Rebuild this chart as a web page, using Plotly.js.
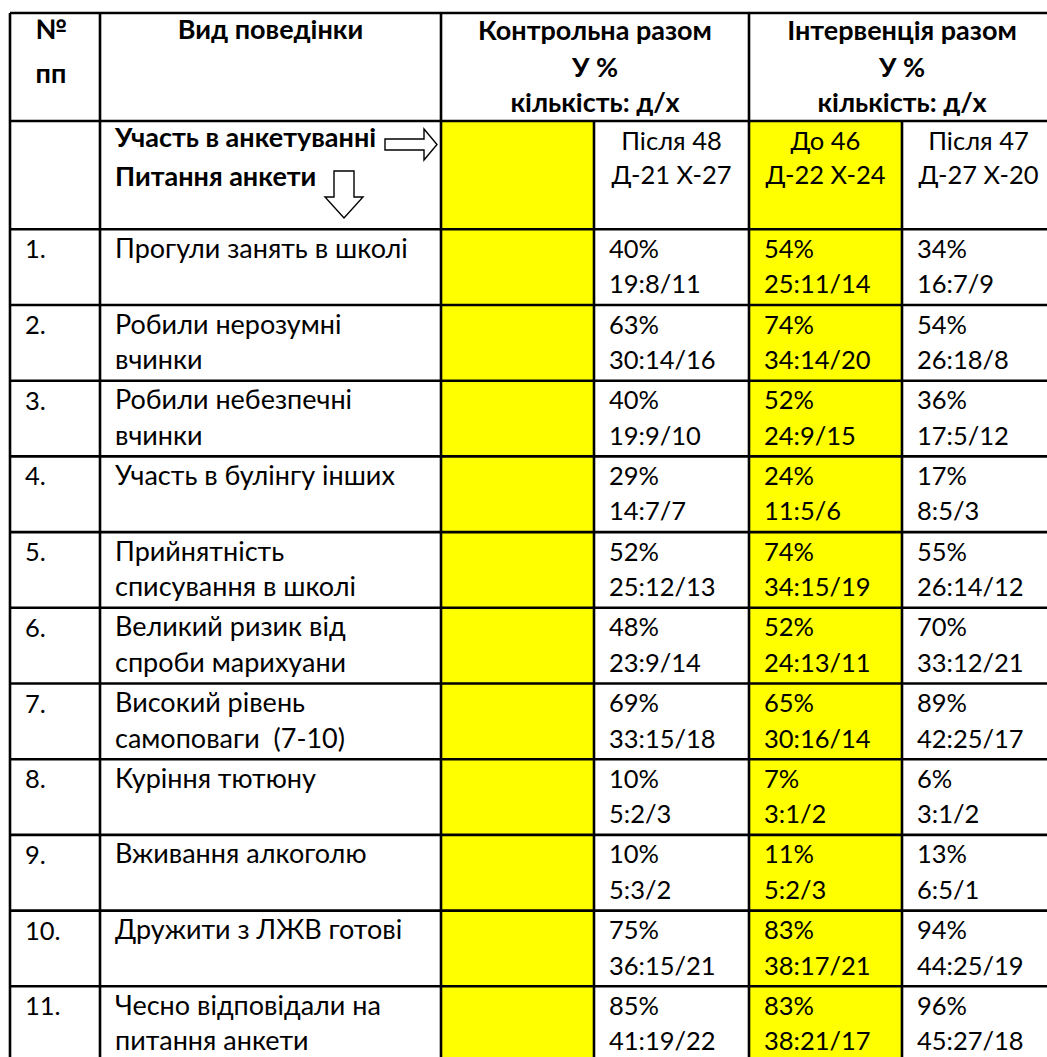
<!DOCTYPE html>
<html>
<head>
<meta charset="utf-8">
<script src="https://cdn.plot.ly/plotly-3.0.1.min.js"></script>
<style>html,body{margin:0;padding:0;background:#fff;}</style>
</head>
<body>
<div id="chart" style="width:1047px;height:1057px;"></div>
<script>
// ---------------- DATA ----------------
const rowNumbers = ['1.', '2.', '3.', '4.', '5.', '6.', '7.', '8.', '9.', '10.', '11.'];
const behaviourLines = [
  ['Прогули занять в школі'],
  ['Робили нерозумні', 'вчинки'],
  ['Робили небезпечні', 'вчинки'],
  ['Участь в булінгу інших'],
  ['Прийнятність', 'списування в школі'],
  ['Великий ризик від', 'спроби марихуани'],
  ['Високий рівень', 'самоповаги  (7-10)'],
  ['Куріння тютюну'],
  ['Вживання алкоголю'],
  ['Дружити з ЛЖВ готові'],
  ['Чесно відповідали на', 'питання анкети']
];
const headerNumber = ['№', 'пп'];
const headerBehaviour = 'Вид поведінки';
const headerParticipation = 'Участь в анкетуванні';
const headerQuestions = 'Питання анкети';
const groupTitles = ['Контрольна разом', 'Інтервенція разом'];
const groupSubtitles = ['У %', 'кількість: д/х'];

// survey waves shown (control-after, intervention-before, intervention-after)
const waveLabels = ['Після', 'До', 'Після'];
const waveTotals = [48, 46, 47];
const waveGirls = [21, 22, 27];
const waveBoys = [27, 24, 20];

// Control group, after
const controlAfterPct   = [40, 63, 40, 29, 52, 48, 69, 10, 10, 75, 85];
const controlAfterN     = [19, 30, 19, 14, 25, 23, 33, 5, 5, 36, 41];
const controlAfterGirls = [8, 14, 9, 7, 12, 9, 15, 2, 3, 15, 19];
const controlAfterBoys  = [11, 16, 10, 7, 13, 14, 18, 3, 2, 21, 22];
// Intervention group, before
const interBeforePct   = [54, 74, 52, 24, 74, 52, 65, 7, 11, 83, 83];
const interBeforeN     = [25, 34, 24, 11, 34, 24, 30, 3, 5, 38, 38];
const interBeforeGirls = [11, 14, 9, 5, 15, 13, 16, 1, 2, 17, 21];
const interBeforeBoys  = [14, 20, 15, 6, 19, 11, 14, 2, 3, 21, 17];
// Intervention group, after
const interAfterPct   = [34, 54, 36, 17, 55, 70, 89, 6, 13, 94, 96];
const interAfterN     = [16, 26, 17, 8, 26, 33, 42, 3, 6, 44, 45];
const interAfterGirls = [7, 18, 5, 5, 14, 12, 25, 1, 5, 25, 27];
const interAfterBoys  = [9, 8, 12, 3, 12, 21, 17, 2, 1, 19, 18];

// ---------------- GEOMETRY / STYLE ----------------
const W = 1047, H = 1057;
const colEdges = [10, 100, 441, 594, 749, 902, 1055];
const topY = 13, headH = 108, partH = 108.3, rowH = 75.7;
const padX = 15;
const FONT = 'Lato, Carlito, sans-serif';
const labelSize = 27, numSize = 25.5, boldSize = 27;
const yellow = '#FFFF00';

const nRows = rowNumbers.length;
const partTop = topY + headH;
const rowsTop = partTop + partH;
const bottomY = rowsTop + nRows * rowH;

const dataCols = [
  {col: 3, pct: controlAfterPct, n: controlAfterN, g: controlAfterGirls, b: controlAfterBoys},
  {col: 4, pct: interBeforePct, n: interBeforeN, g: interBeforeGirls, b: interBeforeBoys},
  {col: 5, pct: interAfterPct, n: interAfterN, g: interAfterGirls, b: interAfterBoys}
];
const yellowCols = [2, 4];

// text items: baseline-positioned
const leftItems = [], centerItems = [];
function addText(list, x, baseline, text, size, bold) {
  list.push({x: x, y: baseline - 0.25 * size, t: bold ? '<b>' + text + '</b>' : text, s: size});
}
const cx = c => (colEdges[c] + colEdges[c + 1]) / 2;

// header row 1
addText(centerItems, cx(0) - 4, topY + 26, headerNumber[0], boldSize, true);
addText(centerItems, cx(0) - 4, topY + 70, headerNumber[1], boldSize, true);
addText(centerItems, cx(1), topY + 26, headerBehaviour, boldSize, true);
const groupCenters = [(colEdges[2] + colEdges[4]) / 2, (colEdges[4] + colEdges[6]) / 2];
groupTitles.forEach((g, i) => {
  addText(centerItems, groupCenters[i], topY + 26.5, g, boldSize, true);
  addText(centerItems, groupCenters[i], topY + 64, groupSubtitles[0], boldSize, true);
  addText(centerItems, groupCenters[i], topY + 99, groupSubtitles[1], boldSize, true);
});
// participation row
addText(leftItems, colEdges[1] + padX, partTop + 26, headerParticipation, boldSize, true);
addText(leftItems, colEdges[1] + padX, partTop + 65, headerQuestions, boldSize, true);
dataCols.forEach((d, i) => {
  addText(centerItems, cx(d.col), partTop + 28.5, waveLabels[i] + ' ' + waveTotals[i], numSize, false);
  addText(centerItems, cx(d.col), partTop + 63, 'Д-' + waveGirls[i] + ' Х-' + waveBoys[i], numSize, false);
});
// data rows
for (let r = 0; r < nRows; r++) {
  const top = rowsTop + r * rowH;
  addText(leftItems, colEdges[0] + padX, top + 29, rowNumbers[r], numSize, false);
  behaviourLines[r].forEach((ln, k) => addText(leftItems, colEdges[1] + padX, top + (k === 0 ? 28.5 : 64), ln, labelSize, false));
  dataCols.forEach(d => {
    addText(leftItems, colEdges[d.col] + padX, top + 28.5, d.pct[r] + '%', numSize, false);
    addText(leftItems, colEdges[d.col] + padX, top + 64, d.n[r] + ':' + d.g[r] + '/' + d.b[r], numSize, false);
  });
}

const traces = [
  {type: 'scatter', mode: 'text', x: leftItems.map(o => o.x), y: leftItems.map(o => o.y),
   text: leftItems.map(o => o.t), textposition: 'middle right',
   textfont: {family: FONT, size: leftItems.map(o => o.s), color: '#000'},
   hoverinfo: 'skip', showlegend: false, cliponaxis: false},
  {type: 'scatter', mode: 'text', x: centerItems.map(o => o.x), y: centerItems.map(o => o.y),
   text: centerItems.map(o => o.t), textposition: 'middle center',
   textfont: {family: FONT, size: centerItems.map(o => o.s), color: '#000'},
   hoverinfo: 'skip', showlegend: false, cliponaxis: false}
];

// shapes
const shapes = [];
yellowCols.forEach(c => shapes.push({type: 'rect', xref: 'x', yref: 'y', layer: 'below',
  x0: colEdges[c], x1: colEdges[c + 1], y0: partTop, y1: bottomY, fillcolor: yellow, line: {width: 0}}));
const lw = 2.6;
function hline(y, x0, x1) { shapes.push({type: 'line', xref: 'x', yref: 'y', x0: x0, x1: x1, y0: y, y1: y, line: {color: '#000', width: lw}}); }
function vline(x, y0, y1) { shapes.push({type: 'line', xref: 'x', yref: 'y', x0: x, x1: x, y0: y0, y1: y1, line: {color: '#000', width: lw}}); }
const L = colEdges[0], R = colEdges[colEdges.length - 1];
hline(topY, L, R); hline(partTop, L, R);
for (let r = 0; r <= nRows; r++) hline(rowsTop + r * rowH, L, R);
[0, 1, 2, 4, 6].forEach(c => vline(colEdges[c], topY, bottomY));
[3, 5].forEach(c => vline(colEdges[c], partTop, bottomY));

// block arrows (outline) in participation cell
const ax = colEdges[2], ay = partTop;
const right = [[ax - 56, ay + 18], [ax - 17, ay + 18], [ax - 17, ay + 8], [ax - 4, ay + 23.5],
               [ax - 17, ay + 39], [ax - 17, ay + 29], [ax - 56, ay + 29]];
const dx0 = colEdges[1] + 244;
const down = [[dx0 - 10, ay + 50], [dx0 + 10, ay + 50], [dx0 + 10, ay + 76], [dx0 + 19, ay + 76],
              [dx0, ay + 97], [dx0 - 19, ay + 76], [dx0 - 10, ay + 76]];
[right, down].forEach(pts => shapes.push({type: 'path', xref: 'x', yref: 'y', layer: 'above',
  path: 'M' + pts.map(p => p[0] + ',' + p[1]).join(' L') + ' Z',
  fillcolor: '#fff', line: {color: '#000', width: 1.4}}));

const layout = {
  width: W, height: H,
  margin: {l: 0, r: 0, t: 0, b: 0, pad: 0},
  paper_bgcolor: '#fff', plot_bgcolor: '#fff',
  xaxis: {range: [0, W], visible: false, fixedrange: true},
  yaxis: {range: [H, 0], visible: false, fixedrange: true},
  shapes: shapes,
  showlegend: false
};
Plotly.newPlot('chart', traces, layout, {staticPlot: true, displayModeBar: false});
</script>
</body>
</html>
